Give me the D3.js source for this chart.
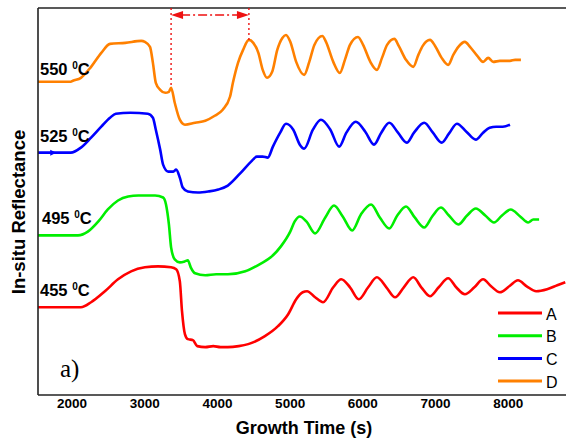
<!DOCTYPE html>
<html>
<head>
<meta charset="utf-8">
<script src="https://cdn.jsdelivr.net/npm/d3@7"></script>
<style>
  body { margin: 0; background: #fff; }
  text { font-family: "Liberation Sans", Arial, sans-serif; }
</style>
</head>
<body>
<div id="chart"></div>
<script>
// growth time (s), reflectance (a.u., curves are offset)
var seriesA = [[1540,0.88],[2130,0.88],[2270,0.93],[2460,1.04],[2640,1.16],[2820,1.24],[3010,1.28],[3190,1.29],[3370,1.28],[3440,1.26],[3490,1.14],[3520,0.84],[3560,0.61],[3600,0.56],[3670,0.55],[3730,0.49],[3840,0.48],[3950,0.49],[4050,0.48],[4150,0.48],[4300,0.49],[4430,0.51],[4660,0.59],[4840,0.69],[4980,0.81],[5090,0.96],[5180,1.03],[5240,1.04],[5350,0.98],[5460,0.93],[5600,1.08],[5710,1.16],[5830,1.08],[5950,0.96],[6080,1.08],[6200,1.18],[6330,1.08],[6450,0.98],[6570,1.08],[6700,1.18],[6810,1.08],[6930,0.99],[7050,1.08],[7180,1.17],[7290,1.08],[7410,1.01],[7540,1.08],[7660,1.16],[7770,1.09],[7890,1.03],[8020,1.09],[8140,1.15],[8260,1.09],[8390,1.04],[8540,1.06],[8680,1.10],[8790,1.13]];
var seriesB = [[1540,1.60],[2090,1.60],[2230,1.64],[2370,1.74],[2500,1.86],[2640,1.95],[2780,1.99],[2920,2.00],[3150,2.00],[3260,1.98],[3300,1.91],[3340,1.71],[3370,1.48],[3420,1.36],[3490,1.33],[3560,1.34],[3600,1.35],[3640,1.28],[3700,1.22],[3840,1.20],[3990,1.21],[4150,1.21],[4390,1.24],[4610,1.32],[4740,1.38],[4880,1.49],[5010,1.64],[5070,1.74],[5140,1.79],[5230,1.74],[5350,1.62],[5490,1.78],[5610,1.90],[5730,1.79],[5860,1.65],[5980,1.81],[6120,1.91],[6240,1.78],[6370,1.67],[6480,1.80],[6600,1.89],[6720,1.78],[6850,1.68],[6960,1.79],[7080,1.88],[7190,1.80],[7320,1.71],[7440,1.80],[7560,1.87],[7690,1.80],[7810,1.73],[7920,1.80],[8040,1.86],[8170,1.79],[8280,1.73],[8350,1.76],[8430,1.76]];
var seriesC = [[1540,2.43],[1990,2.43],[2130,2.48],[2270,2.58],[2410,2.69],[2530,2.78],[2610,2.82],[2810,2.83],[3050,2.82],[3120,2.78],[3160,2.66],[3220,2.46],[3260,2.31],[3330,2.24],[3400,2.24],[3440,2.26],[3490,2.18],[3530,2.08],[3600,2.04],[3740,2.03],[3880,2.04],[4020,2.06],[4150,2.10],[4330,2.23],[4470,2.34],[4550,2.39],[4630,2.39],[4700,2.38],[4770,2.49],[4870,2.63],[4950,2.72],[5050,2.66],[5140,2.51],[5200,2.47],[5320,2.66],[5430,2.76],[5560,2.66],[5680,2.49],[5780,2.63],[5910,2.74],[6040,2.64],[6160,2.51],[6260,2.63],[6370,2.73],[6490,2.63],[6610,2.53],[6710,2.63],[6850,2.73],[6970,2.63],[7090,2.53],[7190,2.62],[7300,2.72],[7430,2.64],[7560,2.56],[7660,2.63],[7750,2.68],[7840,2.69],[7930,2.69],[8030,2.71]];
var seriesD = [[1540,3.14],[1990,3.14],[2020,3.15],[2130,3.18],[2270,3.29],[2410,3.43],[2530,3.52],[2740,3.53],[2960,3.55],[3010,3.54],[3080,3.49],[3120,3.33],[3160,3.13],[3220,3.06],[3290,3.03],[3340,3.04],[3370,3.08],[3420,2.93],[3490,2.76],[3560,2.71],[3700,2.73],[3840,2.75],[3970,2.80],[4080,2.86],[4180,2.99],[4220,3.13],[4290,3.33],[4360,3.46],[4440,3.56],[4500,3.53],[4570,3.43],[4630,3.26],[4690,3.18],[4760,3.24],[4830,3.46],[4900,3.58],[4950,3.61],[5010,3.54],[5090,3.34],[5200,3.21],[5270,3.34],[5340,3.51],[5450,3.60],[5500,3.54],[5600,3.34],[5690,3.23],[5760,3.36],[5830,3.51],[5940,3.59],[6010,3.51],[6110,3.34],[6200,3.26],[6270,3.38],[6340,3.51],[6440,3.57],[6500,3.50],[6600,3.36],[6700,3.29],[6770,3.41],[6830,3.50],[6930,3.56],[7000,3.50],[7090,3.38],[7180,3.31],[7250,3.41],[7320,3.49],[7410,3.54],[7480,3.49],[7580,3.40],[7660,3.34],[7730,3.38],[7800,3.34],[7890,3.35],[8030,3.35],[8100,3.36],[8180,3.36]];

var seriesNames = ["A", "B", "C", "D"];
var seriesColors = ["#ff0000", "#00ee00", "#0000ff", "#ff8000"];
var tempLabels = ["455", "495", "525", "550"];
var xTicks = [2000, 3000, 4000, 5000, 6000, 7000, 8000];

// interval marked on the 550 C curve (s) and the level of its arrow
var markTimes = [3370, 4440];
var markEnds = [3.08, 3.56];
var markArrowLevel = 3.81;

var svgWidth = 566;
var svgHeight = 444;

var margin = {
  top: 8,
  right: 0,
  bottom: 49,
  left: 38
};

var width = svgWidth - margin.left - margin.right;
var height = svgHeight - margin.top - margin.bottom;

var svg = d3.select("#chart")
  .append("svg")
  .attr("width", svgWidth)
  .attr("height", svgHeight);

var chartGroup = svg.append("g")
  .attr("transform", `translate(${margin.left}, ${margin.top})`);

var xLinearScale = d3.scaleLinear()
  .domain([1540, 8800])
  .range([0, width]);

var yLinearScale = d3.scaleLinear()
  .domain([0, 3.88])
  .range([height, 0]);

svg.append("defs").append("clipPath")
  .attr("id", "plot-clip")
  .append("rect")
  .attr("width", width)
  .attr("height", height);

// curves
var allSeries = [seriesA, seriesB, seriesC, seriesD];

var drawLine = d3.line()
  .curve(d3.curveMonotoneX)
  .x(d => xLinearScale(d[0]))
  .y(d => yLinearScale(d[1]));

chartGroup.append("g")
  .attr("clip-path", "url(#plot-clip)")
  .selectAll("path")
  .data(allSeries)
  .enter()
  .append("path")
  .attr("d", drawLine)
  .attr("fill", "none")
  .attr("stroke", (d, i) => seriesColors[i])
  .attr("stroke-width", 2.6)
  .attr("stroke-linejoin", "round");

// small arrow mark on the blue curve
chartGroup.append("path")
  .attr("d", "M-3,-3L3,0L-3,3Z")
  .attr("transform", `translate(${xLinearScale(1750)}, ${yLinearScale(seriesC[0][1])})`)
  .attr("fill", seriesColors[2]);

// frame (right side is cut off in the picture)
var frame = chartGroup.append("g")
  .attr("stroke", "#222")
  .attr("stroke-width", 1.6)
  .attr("fill", "none");
frame.append("line").attr("x1", 0).attr("x2", 0).attr("y1", 0).attr("y2", height);
frame.append("line").attr("x1", 0).attr("x2", width).attr("y1", height).attr("y2", height);
frame.append("line").attr("x1", 0).attr("x2", width).attr("y1", 0).attr("y2", 0);

// x axis labels
var bottomAxis = d3.axisBottom(xLinearScale)
  .tickValues(xTicks)
  .tickSize(0)
  .tickPadding(3.5)
  .tickFormat(d3.format("d"));

var xAxis = chartGroup.append("g")
  .attr("transform", `translate(0, ${height})`)
  .call(bottomAxis);

xAxis.select(".domain").remove();
xAxis.selectAll("text")
  .attr("fill", "#000")
  .style("font-size", "13.5px")
  .style("font-weight", "bold")
  .style("font-family", "'Liberation Sans', Arial, sans-serif");

svg.append("text")
  .attr("x", 304)
  .attr("y", 434)
  .attr("text-anchor", "middle")
  .style("font-size", "18px")
  .style("font-weight", "bold")
  .text("Growth Time (s)");

svg.append("text")
  .attr("transform", "translate(25, 212) rotate(-90)")
  .attr("text-anchor", "middle")
  .style("font-size", "18.5px")
  .style("font-weight", "bold")
  .text("In-situ Reflectance");

// temperature labels over each curve start
var tempText = chartGroup.selectAll(".temp")
  .data(tempLabels)
  .enter()
  .append("text")
  .attr("class", "temp")
  .attr("x", (d, i) => i == 1 ? 4 : 2)
  .attr("y", (d, i) => yLinearScale(allSeries[i][0][1]) - (i == 3 ? 7 : 11))
  .style("font-size", "16.5px")
  .style("font-weight", "bold");

tempText.append("tspan").text(d => d + " ");
tempText.append("tspan")
  .attr("dy", -6)
  .style("font-size", "10px")
  .text("0");
tempText.append("tspan")
  .attr("dy", 6)
  .text("C");

// marked interval
var markGroup = chartGroup.append("g")
  .attr("stroke", "#ee1111")
  .attr("stroke-width", 1.4)
  .attr("fill", "none");

markGroup.selectAll("line.v")
  .data(markTimes)
  .enter()
  .append("line")
  .attr("class", "v")
  .attr("x1", d => xLinearScale(d))
  .attr("x2", d => xLinearScale(d))
  .attr("y1", 0)
  .attr("y2", (d, i) => yLinearScale(markEnds[i]))
  .attr("stroke-dasharray", "2,3");

var ax0 = xLinearScale(markTimes[0]);
var ax1 = xLinearScale(markTimes[1]);
var ay = yLinearScale(markArrowLevel);

markGroup.append("line")
  .attr("x1", ax0 + 10)
  .attr("x2", ax1 - 10)
  .attr("y1", ay)
  .attr("y2", ay)
  .attr("stroke-dasharray", "9,3,2,3");

chartGroup.append("path")
  .attr("d", `M${ax0},${ay}L${ax0 + 12},${ay - 4}L${ax0 + 12},${ay + 4}Z`)
  .attr("fill", "#ee1111");
chartGroup.append("path")
  .attr("d", `M${ax1},${ay}L${ax1 - 12},${ay - 4}L${ax1 - 12},${ay + 4}Z`)
  .attr("fill", "#ee1111");

// panel letter
svg.append("text")
  .attr("x", 60)
  .attr("y", 377)
  .style("font-family", "'Liberation Serif', 'Times New Roman', serif")
  .style("font-size", "25px")
  .text("a)");

// legend
var legend = svg.append("g")
  .selectAll("g")
  .data(seriesNames)
  .enter()
  .append("g")
  .attr("transform", (d, i) => `translate(498, ${313 + i * 22.7})`);

legend.append("line")
  .attr("x1", 0)
  .attr("x2", 44)
  .attr("stroke", (d, i) => seriesColors[i])
  .attr("stroke-width", 3);

legend.append("text")
  .attr("x", 48)
  .attr("y", 6.5)
  .style("font-size", "16px")
  .text(d => d);
</script>
</body>
</html>
